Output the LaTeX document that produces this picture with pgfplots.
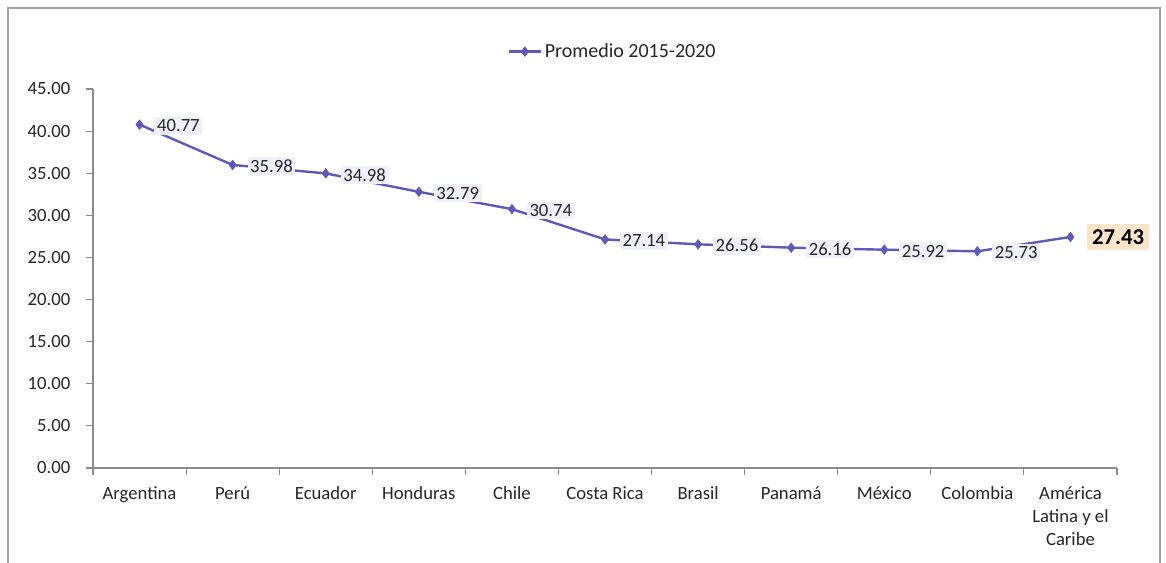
\documentclass[border=0pt]{standalone}
\usepackage{fontspec}
\setmainfont{Carlito}
\usepackage{pgfplots}
\pgfplotsset{compat=1.18}
\definecolor{linec}{RGB}{94,90,186}
\definecolor{axc}{RGB}{140,140,140}
\definecolor{lblbg}{RGB}{240,240,251}
\definecolor{orbg}{RGB}{252,228,200}
\newcommand\fs{\fontsize{14}{17}\selectfont}
\begin{document}
\begin{tikzpicture}
\useasboundingbox (0pt,0pt) rectangle (874.5pt,422.25pt);
\draw[axc!80, line width=0.8pt] (6pt,0pt) -- (6pt,416.25pt) -- (870pt,416.25pt) -- (870pt,0pt);
\begin{axis}[
  at={(69.75pt,71.25pt)}, anchor=south west,
  scale only axis, width=768pt, height=284.25pt,
  xmin=-0.5, xmax=10.5, ymin=0, ymax=45,
  axis lines=left, axis line style={-, axc, line width=0.8pt},
  xtick={0,...,10},
  xticklabels={Argentina,Perú,Ecuador,Honduras,Chile,Costa Rica,Brasil,Panamá,México,Colombia,{América\\Latina y el\\Caribe}},
  xticklabel style={align=center, font=\fs, text=black!85, inner sep=1pt, yshift=-8pt},
  major x tick style={draw=none},
  minor xtick={-0.5,0.5,...,10.5},
  minor x tick style={axc, line width=0.8pt},
  minor tick length=5pt,
  ytick={0,5,...,45},
  ytick style={axc, line width=0.8pt},
  major tick length=5pt,
  tick align=outside,
  yticklabel style={font=\fs, text=black!85, xshift=-8.5pt, /pgf/number format/.cd, fixed, precision=2, zerofill, assume math mode=true},
  legend style={at={(0.5,1)}, anchor=center, yshift=28pt, xshift=6pt, draw=none, fill=none, font=\fontsize{15}{17}\selectfont, text=black!85},
  legend image code/.code={\draw[#1, line width=1.8pt] (0pt,0pt) -- (24pt,0pt); \draw[#1, mark repeat=1, mark phase=1] plot coordinates {(12pt,0pt)};},
  clip=false,
]
\addplot[linec, line width=1.8pt, mark=diamond*, mark size=3.5pt, mark options={fill=linec, line width=0.6pt}]
  coordinates {(0,40.77) (1,35.98) (2,34.98) (3,32.79) (4,30.74) (5,27.14) (6,26.56) (7,26.16) (8,25.92) (9,25.73) (10,27.43)};
\addlegendentry{Promedio 2015-2020}
\addplot[draw=none, forget plot, nodes near coords, point meta=y,
  every node near coord/.style={anchor=west, xshift=11pt, yshift=-1pt, font=\fs, text=black!85, fill=lblbg, inner sep=2pt,
    /pgf/number format/.cd, fixed, precision=2, zerofill, assume math mode=true}]
  coordinates {(0,40.77) (1,35.98) (2,34.98) (3,32.79) (4,30.74) (5,27.14) (6,26.56) (7,26.16) (8,25.92) (9,25.73)};
\addplot[draw=none, forget plot, nodes near coords, point meta=y,
  every node near coord/.style={anchor=west, xshift=12pt, font=\fontsize{17}{19}\selectfont\bfseries, text=black, fill=orbg, inner sep=4pt,
    /pgf/number format/.cd, fixed, precision=2, zerofill, assume math mode=true}]
  coordinates {(10,27.43)};
\end{axis}
\end{tikzpicture}
\end{document}
